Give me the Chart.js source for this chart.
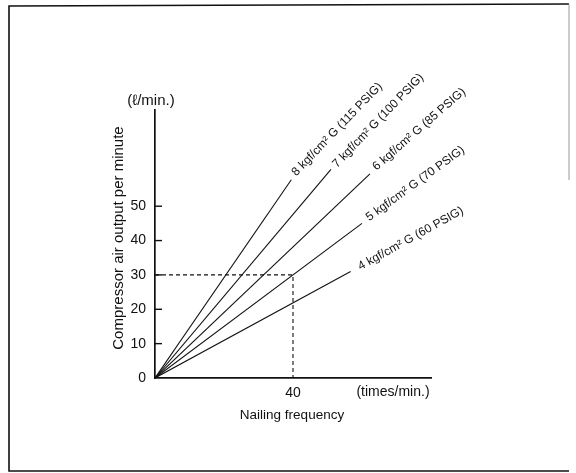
<!DOCTYPE html>
<html lang="en">
<head>
    <meta charset="UTF-8">
    <title>Nailing frequency vs compressor air output</title>
    <script src="https://cdn.jsdelivr.net/npm/chart.js"></script>
    <style>
        body { margin: 0; background: #fff; }
        canvas { display: block; }
    </style>
</head>
<body>
    <canvas id="airChart" width="576" height="473"></canvas>

    <script>
        // pressure lines (start at the origin)
        const seriesLabels = [
            '8 kgf/cm\u00B2 G (115 PSIG)',
            '7 kgf/cm\u00B2 G (100 PSIG)',
            '6 kgf/cm\u00B2 G (85 PSIG)',
            '5 kgf/cm\u00B2 G (70 PSIG)',
            '4 kgf/cm\u00B2 G (60 PSIG)'
        ];
        const endX = [39.5, 51, 62.3, 60, 56.7];
        const endY = [57.7, 60.7, 59.4, 45, 31];

        // example reading: 40 times/min at 30 l/min
        const guideX = [0, 40, 40];
        const guideY = [30, 30, 0];

        const yTicks = [0, 10, 20, 30, 40, 50];
        const xTicks = [40];
        const yMax = 78;
        const xMax = 80;

        // label placement next to each line end
        const labelOffsets = [[4, -7], [5, -5], [6, -7], [7, -6], [10, -5]];
        const labelAngles = [46, 46, 41, 36, 29];

        const font = '"Liberation Sans", Arial, Helvetica, sans-serif';

        const datasets = seriesLabels.map((name, i) => ({
            label: name,
            data: [{ x: 0, y: 0 }, { x: endX[i], y: endY[i] }],
            borderColor: '#111',
            borderWidth: 1.1,
            pointRadius: 0,
            showLine: true
        }));
        datasets.push({
            label: 'guide',
            data: guideX.map((x, i) => ({ x: x, y: guideY[i] })),
            borderColor: '#111',
            borderWidth: 1.1,
            borderDash: [4, 3],
            pointRadius: 0,
            showLine: true
        });

        const annotate = {
            id: 'annotate',
            afterDatasetsDraw(chart) {
                const { ctx, chartArea, scales } = chart;
                const xs = scales.x, ys = scales.y;
                ctx.save();
                ctx.fillStyle = '#111';
                ctx.strokeStyle = '#111';

                // inward tick marks on the y axis
                ctx.lineWidth = 1.4;
                yTicks.forEach(v => {
                    if (v === 0) return;
                    const py = ys.getPixelForValue(v);
                    ctx.beginPath();
                    ctx.moveTo(chartArea.left, py);
                    ctx.lineTo(chartArea.left + 7, py);
                    ctx.stroke();
                });

                // line labels
                ctx.font = '12px ' + font;
                ctx.textAlign = 'left';
                ctx.textBaseline = 'middle';
                seriesLabels.forEach((name, i) => {
                    const px = xs.getPixelForValue(endX[i]) + labelOffsets[i][0];
                    const py = ys.getPixelForValue(endY[i]) + labelOffsets[i][1];
                    ctx.save();
                    ctx.translate(px, py);
                    ctx.rotate(-labelAngles[i] * Math.PI / 180);
                    ctx.fillText(name, -2, 0);
                    ctx.restore();
                });

                // units and axis titles
                ctx.textAlign = 'center';
                ctx.font = '15px ' + font;
                ctx.fillText('(\u2113/min.)', chartArea.left - 4, chartArea.top - 9);
                ctx.font = '14px ' + font;
                ctx.fillText('(times/min.)', chartArea.right - 38, chartArea.bottom + 14);
                ctx.font = '13.5px ' + font;
                ctx.fillText('Nailing frequency', 292, chartArea.bottom + 37);

                ctx.font = '15px ' + font;
                ctx.save();
                ctx.translate(chartArea.left - 36, 238);
                ctx.rotate(-Math.PI / 2);
                ctx.fillText('Compressor air output per minute', 0, 0);
                ctx.restore();

                // outer frame
                ctx.lineWidth = 1.6;
                ctx.beginPath();
                ctx.moveTo(569, 4);
                ctx.lineTo(9, 6);
                ctx.lineTo(9, 471);
                ctx.lineTo(569, 471);
                ctx.stroke();
                ctx.strokeStyle = '#999';
                ctx.lineWidth = 1;
                ctx.beginPath();
                ctx.moveTo(569, 4);
                ctx.lineTo(569, 180);
                ctx.stroke();

                ctx.restore();
            }
        };

        new Chart(document.getElementById('airChart'), {
            type: 'scatter',
            data: { datasets: datasets },
            plugins: [annotate],
            options: {
                responsive: false,
                animation: false,
                layout: { padding: { left: 0, top: 110, right: 145, bottom: 55 } },
                plugins: {
                    legend: { display: false },
                    tooltip: { enabled: false }
                },
                scales: {
                    x: {
                        type: 'linear',
                        min: 0,
                        max: xMax,
                        afterBuildTicks: s => { s.ticks = xTicks.map(v => ({ value: v })); },
                        afterFit: s => { s.height = 40; },
                        grid: { display: true, drawOnChartArea: false, drawTicks: false },
                        border: { display: true, color: '#111', width: 1.7 },
                        ticks: { color: '#111', padding: 7, font: { family: font, size: 14 } }
                    },
                    y: {
                        type: 'linear',
                        min: 0,
                        max: yMax,
                        afterBuildTicks: s => { s.ticks = yTicks.map(v => ({ value: v })); },
                        afterFit: s => { s.width = 155; },
                        grid: { display: true, drawOnChartArea: false, drawTicks: false },
                        border: { display: true, color: '#111', width: 1.7 },
                        ticks: { color: '#111', padding: 9, font: { family: font, size: 14 } }
                    }
                }
            }
        });
    </script>
</body>
</html>
